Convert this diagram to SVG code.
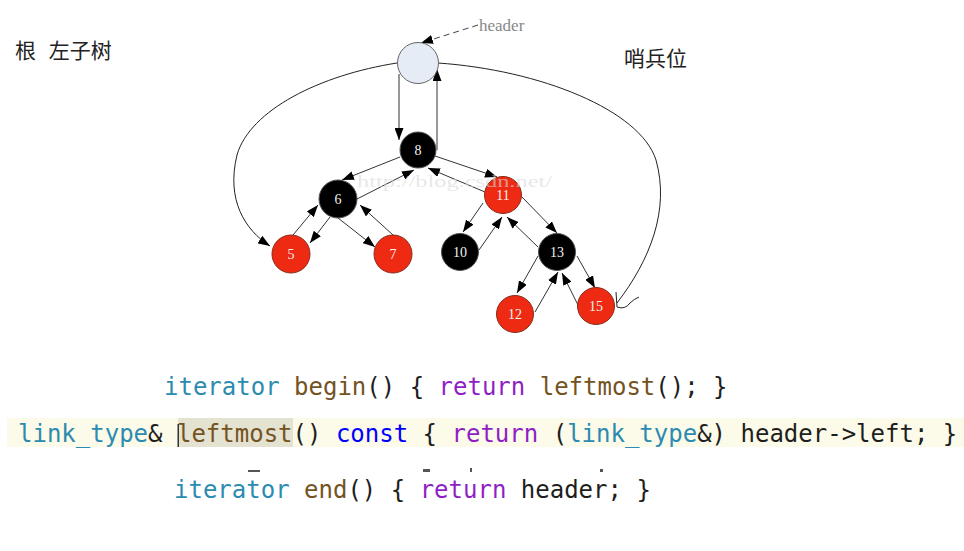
<svg xmlns="http://www.w3.org/2000/svg" width="964" height="551" viewBox="0 0 964 551">
<style>
.edge{stroke:#333;stroke-width:1;fill:none;marker-end:url(#ah)}
.curve{stroke:#222;stroke-width:1;fill:none}
.nb{fill:#000;stroke:#555;stroke-width:1}
.nr{fill:#ee2a12;stroke:#8a2a1a;stroke-width:1}
.lbl{font-family:"Liberation Serif",serif;font-size:14px;fill:#f2f2f2;text-anchor:middle}
.cjk{font-family:"Noto Sans CJK SC",sans-serif;font-size:21px;fill:#222}
.code{font-family:"DejaVu Sans Mono","Liberation Mono",monospace;font-size:24px;white-space:pre;fill:#1e1e1e}
.ty{fill:#2b8bb0}.fn{fill:#74531f}.kw{fill:#8f1fc4}.cs{fill:#0000ff}
</style>
<defs>
<marker id="ah" viewBox="0 0 12 9" refX="12" refY="4.5" markerWidth="12" markerHeight="9" orient="auto" markerUnits="userSpaceOnUse"><path d="M0,0 L12,4.5 L0,9 z" fill="#000"/></marker>
</defs>
<rect width="964" height="551" fill="#fff"/>

<g id="labels">
<text class="cjk" x="15" y="58">根 <tspan dx="8">左子树</tspan></text>
<text class="cjk" x="624" y="66">哨兵位</text>
</g>

<g id="connectors">
<path class="curve" d="M397,63 C320,75 250,110 237,155 C226,200 245,230 270,246" marker-end="url(#ah)"/>
<path class="curve" d="M438,63 C540,70 640,110 656,160 C670,210 650,260 617,303"/>
<path class="curve" d="M616,292 L617,307 Q625,310 630,303 Q634,299 639,297"/>
<path d="M478,25 L421,43" stroke="#444" stroke-width="1" stroke-dasharray="6,4" fill="none" marker-end="url(#ah)"/>
<path class="edge" d="M399,74 L399,140"/>
<path class="edge" d="M437,150 L437,69"/>
<path class="edge" d="M400,157 L342,180"/>
<path class="edge" d="M357,199 L414,170"/>
<path class="edge" d="M435,156 L497,177"/>
<path class="edge" d="M485,192 L428,168"/>
<path class="edge" d="M330,217 L310,243"/>
<path class="edge" d="M293,235 L318,205"/>
<path class="edge" d="M338,218 L375,247"/>
<path class="edge" d="M393,235 L360,205"/>
<path class="edge" d="M483,203 L463,232"/>
<path class="edge" d="M479,250 L502,217"/>
<path class="edge" d="M522,197 L557,233"/>
<path class="edge" d="M538,247 L507,217"/>
<path class="edge" d="M538,256 L517,293"/>
<path class="edge" d="M535,312 L558,272"/>
<path class="edge" d="M577,256 L595,288"/>
<path class="edge" d="M578,305 L562,273"/>
</g>

<g id="header"><circle cx="418" cy="63" r="20.5" fill="#e6ecf5" stroke="#666" stroke-width="1"/>
<text x="479" y="31" font-family="Liberation Serif,serif" font-size="17" fill="#888">header</text></g>
<g id="n8"><circle class="nb" cx="418" cy="150" r="18"/><text class="lbl" x="418" y="155">8</text></g>
<g id="n6"><circle class="nb" cx="338" cy="199" r="19"/><text class="lbl" x="338" y="204">6</text></g>
<g id="n5"><circle class="nr" cx="291" cy="254" r="19"/><text class="lbl" x="291" y="259">5</text></g>
<g id="n7"><circle class="nr" cx="393" cy="254" r="19"/><text class="lbl" x="393" y="259">7</text></g>
<g id="n11"><circle class="nr" cx="503" cy="195" r="18.5"/><text class="lbl" x="503" y="200">11</text></g>
<g id="n10"><circle class="nb" cx="460" cy="252" r="18.5"/><text class="lbl" x="460" y="257">10</text></g>
<g id="n13"><circle class="nb" cx="557" cy="252" r="18.5"/><text class="lbl" x="557" y="257">13</text></g>
<g id="n12"><circle class="nr" cx="515" cy="314" r="18.5"/><text class="lbl" x="515" y="319">12</text></g>
<g id="n15"><circle class="nr" cx="596" cy="306" r="18.5"/><text class="lbl" x="596" y="311">15</text></g>

<text x="357" y="187" font-family="Liberation Serif,serif" font-size="17" fill="#d8d8d8" fill-opacity="0.6" textLength="195" lengthAdjust="spacingAndGlyphs">http://blog.csdn.net/</text>

<g id="code">
<rect x="7" y="418" width="957" height="29" fill="#fcfae9"/>
<rect x="178" y="418" width="115" height="29" fill="#e4e2d1"/>
<text class="code" x="164" y="395"><tspan class="ty">iterator</tspan> <tspan class="fn">begin</tspan>() { <tspan class="kw">return</tspan> <tspan class="fn">leftmost</tspan>(); }</text>
<text class="code" x="18" y="442"><tspan class="ty">link_type</tspan>&amp; <tspan class="fn">leftmost</tspan>() <tspan class="cs">const</tspan> { <tspan class="kw">return</tspan> (<tspan class="ty">link_type</tspan>&amp;) header-&gt;left; }</text>
<rect x="177.5" y="424" width="1.5" height="23" fill="#333"/>
<rect x="248" y="470" width="12" height="2" fill="#555"/>
<rect x="423" y="469" width="7" height="3" fill="#555"/>
<rect x="470" y="468" width="2" height="4" fill="#555"/>
<rect x="600" y="469" width="3" height="3" fill="#555"/>
<text class="code" x="174" y="498"><tspan class="ty">iterator</tspan> <tspan class="fn">end</tspan>() { <tspan class="kw">return</tspan> header; }</text>
</g>
</svg>
